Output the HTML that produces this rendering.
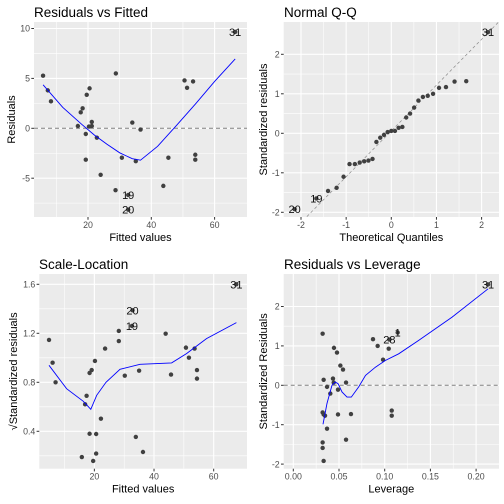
<!DOCTYPE html>
<html><head><meta charset="utf-8"><style>
body{margin:0;background:#fff}
svg{display:block;font-family:"Liberation Sans",sans-serif}
</style></head><body>
<svg id="c" width="504" height="504" viewBox="0 0 504 504"></svg>
<script>
// Residuals vs Fitted
const rvfFitted=[5.8,7.3,8.3,16.8,17.7,18.3,19.3,19.3,19.6,20.3,20.5,21.2,21.2,22.8,24.0,28.8,28.7,30.7,32.7,32.7,34.0,35.1,36.6,43.8,45.4,50.5,51.3,53.2,53.9,53.9,66.5];
const rvfResid=[5.27,3.8,2.7,0.23,1.6,2.0,-0.57,-3.15,3.36,0.17,4.0,0.64,0.23,-0.94,-4.66,5.5,-6.2,-2.95,-6.68,-8.15,0.57,-3.29,-0.13,-5.77,-2.95,4.8,4.06,4.7,-2.65,-3.15,9.66];
const rvfLabels=[[18,"19"],[19,"20"],[30,"31"]];
const rvfSmoothX=[5.8,12,18,22,26,30,34,36.6,42,48,54,60,66.5];
const rvfSmoothY=[4.36,2.1,0.4,-0.67,-1.6,-2.45,-3.05,-3.2,-1.8,0.3,2.45,4.7,6.95];
// Normal Q-Q
const qqTheo=[-2.141,-1.660,-1.401,-1.211,-1.057,-0.925,-0.807,-0.700,-0.600,-0.506,-0.416,-0.330,-0.245,-0.162,-0.081,0,0.081,0.162,0.245,0.330,0.416,0.506,0.600,0.700,0.807,0.925,1.057,1.211,1.401,1.660,2.141];
const qqStd=[-1.92,-1.65,-1.46,-1.38,-1.10,-0.78,-0.78,-0.74,-0.71,-0.69,-0.65,-0.22,-0.11,-0.04,0.03,0.06,0.06,0.14,0.16,0.40,0.50,0.65,0.83,0.92,0.95,1.0,1.15,1.17,1.31,1.32,2.56];
const qqLabels=[[0,"20"],[1,"19"],[30,"31"]];
const qqLine=[1.16,0.06];
// Scale-Location
const slFitted=[4.8,6.0,7.0,15.8,16.9,17.4,18.4,18.4,19.1,19.6,20.2,20.6,20.6,22.2,23.6,28.2,28.2,30.2,32.6,32.8,33.9,35.0,36.3,43.9,45.7,50.7,51.7,53.6,54.4,54.4,67.6];
const slSqrt=[1.146,0.96,0.80,0.19,0.62,0.69,0.38,0.876,0.90,0.158,0.974,0.378,0.218,0.503,1.075,1.137,1.219,0.854,1.26,1.388,0.354,0.895,0.231,1.197,0.863,1.083,1.001,1.075,0.90,0.83,1.6];
const slLabels=[[18,"19"],[19,"20"],[30,"31"]];
const slSmoothX=[4.8,10.7,16.3,18.8,20.8,23.9,28.6,35.3,45.9,50.9,57.6,67.6];
const slSmoothY=[0.939,0.748,0.645,0.58,0.694,0.80,0.906,0.947,0.958,1.034,1.157,1.287];
// Residuals vs Leverage
const lvLev=[0.0321,0.0332,0.0321,0.0332,0.0347,0.0321,0.0321,0.0332,0.0369,0.0369,0.0405,0.0434,0.0442,0.0445,0.0478,0.0489,0.0489,0.0515,0.0544,0.0577,0.0577,0.0631,0.0872,0.0923,0.0982,0.1044,0.1051,0.1142,0.1077,0.1077,0.2131];
const lvStd=[1.31,0.14,-0.69,-0.74,-0.77,-1.45,-1.59,-1.92,-0.04,-1.10,-0.21,0.17,0.07,0.95,0.83,-0.11,-0.74,0.50,0.40,0.07,-1.38,-0.73,1.17,1.0,0.65,0.93,1.16,1.34,-0.64,-0.77,2.56];
const lvLabels=[[26,"28"],[27,"1"],[30,"31"]];
const lvSmoothX=[0.0325,0.0369,0.0423,0.046,0.049,0.0533,0.0588,0.0635,0.0715,0.079,0.0898,0.1007,0.1153,0.1372,0.1737,0.2131];
const lvSmoothY=[-0.99,-0.46,0,0.08,0.04,-0.17,-0.30,-0.30,-0.04,0.25,0.46,0.63,0.80,1.14,1.73,2.45];

const NS="http://www.w3.org/2000/svg";
const svg=document.getElementById('c');
function mk(tag,attrs,parent){const e=document.createElementNS(NS,tag);for(const k in attrs)e.setAttribute(k,attrs[k]);(parent||svg).appendChild(e);return e;}

const panels=[
 {key:"residuals-vs-fitted",title:"Residuals vs Fitted",xt:"Fitted values",yt:"Residuals",
  L:34,R:247,T:22,B:217,x0:24.7,xs:3.165,y0:128.3,ys:-9.98,yb:0,
  xMaj:[20,40,60],xMin:[10,30,50],yMaj:[-5,0,5,10],yMin:[-7.5,-2.5,2.5,7.5],
  xLab:v=>String(v),yLab:v=>String(v),
  X:rvfFitted,Y:rvfResid,labels:rvfLabels,sx:rvfSmoothX,sy:rvfSmoothY,hline:true,tx:34,ty:17,ytx:11},
 {key:"normal-qq",title:"Normal Q-Q",xt:"Theoretical Quantiles",yt:"Standardized residuals",
  L:283.7,R:499,T:22,B:217,x0:391.3,xs:45.15,y0:133.3,ys:-39.5,
  xMaj:[-2,-1,0,1,2],xMin:[-1.5,-0.5,0.5,1.5],yMaj:[-2,-1,0,1,2],yMin:[-1.5,-0.5,0.5,1.5],
  xLab:v=>String(v),yLab:v=>String(v),
  X:qqTheo,Y:qqStd,labels:qqLabels,qq:true,tx:284,ty:17,ytx:263},
 {key:"scale-location",title:"Scale-Location",xt:"Fitted values",yt:"√Standardized residuals",
  L:39.3,R:247,T:274,B:468.7,x0:34.7,xs:2.983,y0:284.3+1.6*122.5,ys:-122.5,
  xMaj:[20,40,60],xMin:[10,30,50],yMaj:[0.4,0.8,1.2,1.6],yMin:[0.2,0.6,1.0,1.4],
  xLab:v=>String(v),yLab:v=>v.toFixed(1),
  X:slFitted,Y:slSqrt,labels:slLabels,sx:slSmoothX,sy:slSmoothY,tx:39,ty:269,ytx:13},
 {key:"residuals-vs-leverage",title:"Residuals vs Leverage",xt:"Leverage",yt:"Standardized Residuals",
  L:283.7,R:499,T:274,B:468.7,x0:293.3,xs:914,y0:385.3,ys:-39.4,
  xMaj:[0,0.05,0.1,0.15,0.2],xMin:[0.025,0.075,0.125,0.175],yMaj:[-2,-1,0,1,2],yMin:[-1.5,-0.5,0.5,1.5],
  xLab:v=>v.toFixed(2),yLab:v=>String(v),
  X:lvLev,Y:lvStd,labels:lvLabels,sx:lvSmoothX,sy:lvSmoothY,hline:true,tx:284,ty:269,ytx:263}
];

panels.forEach(p=>{
 const px=v=>p.x0+v*p.xs, py=v=>p.y0+v*p.ys;
 const g=mk('g',{});
 
 
 const bg=mk('rect',{x:p.L,y:p.T,width:p.R-p.L,height:p.B-p.T,fill:'#EBEBEB'},g);
 
 
 p.yMin.forEach(v=>{mk('line',{x1:p.L,x2:p.R,y1:py(v),y2:py(v),stroke:'#fff','stroke-width':0.55},g);});
 p.xMin.forEach(v=>{mk('line',{x1:px(v),x2:px(v),y1:p.T,y2:p.B,stroke:'#fff','stroke-width':0.55},g);});
 p.yMaj.forEach(v=>{
  mk('line',{x1:p.L,x2:p.R,y1:py(v),y2:py(v),stroke:'#fff','stroke-width':1.1},g);
  mk('line',{x1:p.L-2.7,x2:p.L,y1:py(v),y2:py(v),stroke:'#333','stroke-width':1},g);
  const t=mk('text',{x:p.L-4,y:py(v)+3.2,'text-anchor':'end','font-size':8.8,fill:'#4D4D4D'},g);
  t.textContent=p.yLab(v);
  
  
 });
 p.xMaj.forEach(v=>{
  mk('line',{x1:px(v),x2:px(v),y1:p.T,y2:p.B,stroke:'#fff','stroke-width':1.1},g);
  mk('line',{x1:px(v),x2:px(v),y1:p.B,y2:p.B+2.7,stroke:'#333','stroke-width':1},g);
  const t=mk('text',{x:px(v),y:p.B+11,'text-anchor':'middle','font-size':8.8,fill:'#4D4D4D'},g);
  t.textContent=p.xLab(v);
  
  
 });
 if(p.hline){
  const h=mk('line',{x1:p.L,x2:p.R,y1:py(0),y2:py(0),stroke:'#7f7f7f','stroke-width':1,'stroke-dasharray':'4,3'},g);
  
  
 }
 if(p.qq){
  const xa=(p.L-p.x0)/p.xs, xb=(p.R-p.x0)/p.xs;
  const cl=mk('clipPath',{id:'qqclip'},g);
  mk('rect',{x:p.L,y:p.T,width:p.R-p.L,height:p.B-p.T},cl);
  const l=mk('line',{x1:px(xa),x2:px(xb),y1:py(qqLine[0]*xa+qqLine[1]),y2:py(qqLine[0]*xb+qqLine[1]),stroke:'#8a8a8a','stroke-width':0.7,'stroke-dasharray':'3,2.5','clip-path':'url(#qqclip)'},g);
  
  
 }
 p.X.forEach((x,i)=>{
  const c=mk('circle',{cx:px(x),cy:py(p.Y[i]),r:2.2,fill:'#404040'},g);
  
  
 });
 if(p.sx){
  const d=p.sx.map((x,i)=>(i?'L':'M')+px(x).toFixed(1)+','+py(p.sy[i]).toFixed(1)).join(' ');
  const s=mk('path',{d:d,fill:'none',stroke:'#0000FF','stroke-width':0.9},g);
  
  
 }
 p.labels.forEach(([i,lab])=>{
  const t=mk('text',{x:px(p.X[i]),y:py(p.Y[i])+4,'text-anchor':'middle','font-size':11,fill:'#111'},g);
  t.textContent=lab;
  
  
 });
 const tt=mk('text',{x:p.tx,y:p.ty,'font-size':13.5,fill:'#000'},g);
 tt.textContent=p.title;
 
 
 const xt=mk('text',{x:(p.L+p.R)/2,y:p.B+24,'text-anchor':'middle','font-size':11,fill:'#000'},g);
 xt.textContent=p.xt;
 
 
 const cy=(p.T+p.B)/2;
 const yt=mk('text',{x:p.ytx+4,y:cy,'text-anchor':'middle','font-size':11,fill:'#000',transform:'rotate(-90 '+(p.ytx+4)+' '+cy+')'},g);
 yt.textContent=p.yt;
 
 
});
</script>
</body></html>
